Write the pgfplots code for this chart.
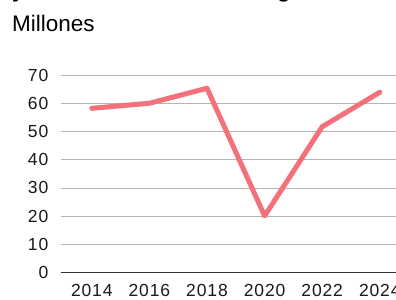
\documentclass[border=0pt]{standalone}
\usepackage{fontspec}
\setmainfont{Liberation Sans}
\newfontfamily\tickfont[LetterSpace=5]{Liberation Sans}
\usepackage{pgfplots}
\pgfplotsset{compat=1.18}
\definecolor{linered}{HTML}{F2717A}
\definecolor{gridgray}{HTML}{B4B4B4}
\definecolor{axisdark}{HTML}{333333}
\begin{document}
\begin{tikzpicture}
\useasboundingbox (0,0) rectangle (396bp,300bp);
\clip (0,0) rectangle (396bp,300bp);
\node[anchor=base west, inner sep=0pt, font=\fontsize{22.5bp}{26bp}\selectfont] at (12bp,268bp) {Millones};
\node[anchor=base west, inner sep=0pt, font=\bfseries\fontsize{22bp}{26bp}\selectfont] at (12bp,302.5bp) {y};
\node[anchor=base west, inner sep=0pt, font=\bfseries\fontsize{22bp}{26bp}\selectfont] at (277bp,302.5bp) {g};
\begin{axis}[
  at={(61bp,27.3bp)}, anchor=south west,
  scale only axis, width=362bp, height=197.7bp,
  xmin=2012.93, xmax=2025.5, ymin=0, ymax=70,
  axis lines*=left,
  y axis line style={draw=none},
  x axis line style={draw=axisdark, line width=1.2bp, -},
  major tick length=0pt,
  ymajorgrids, grid style={gridgray, line width=0.9bp},
  xtick={2014,2016,2018,2020,2022,2024},
  ytick={0,10,20,30,40,50,60,70},
  /pgf/number format/1000 sep={},
  /pgf/number format/assume math mode=true,
  tick label style={font=\tickfont\fontsize{17.5bp}{20bp}\selectfont, text=black!90},
  yticklabel style={anchor=east, inner sep=0pt, xshift=-12.5bp},
  xticklabel style={anchor=north, inner sep=0pt, yshift=-11.5bp},
  clip=false,
]
\addplot[linered, line width=5bp, line cap=round, line join=round] coordinates {
  (2014,58.2) (2016,60.0) (2018,65.3) (2020,20.1) (2022,51.7) (2024,63.9)
};
\end{axis}
\end{tikzpicture}
\end{document}
